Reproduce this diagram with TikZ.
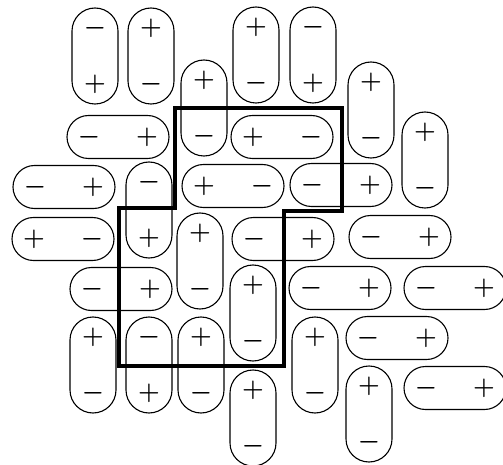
\documentclass[tikz,border=0pt]{standalone}
\usetikzlibrary{calc}
\tikzset{
  capsule/.style={draw=black, line width=1.1pt, rectangle, inner sep=0pt},
  vcap/.style={capsule, minimum width=46pt, minimum height=96pt, rounded corners=23pt},
  hcap/.style={capsule, minimum width=102pt, minimum height=43pt, rounded corners=21.5pt},
  sgn/.style={inner sep=0pt, font=\fontsize{25}{25}\selectfont\boldmath},
  frame/.style={line width=3.2pt, line join=miter}
}
\newcommand{\capV}[5]{%
  \node[vcap] (#1) at (#2,#3) {};
  \node[sgn] (#1t) at (#2,{#3-28}) {$#4$};
  \node[sgn] (#1b) at (#2,{#3+28}) {$#5$};}
\newcommand{\capH}[5]{%
  \node[hcap] (#1) at (#2,#3) {};
  \node[sgn] (#1l) at ({#2-29},#3) {$#4$};
  \node[sgn] (#1r) at ({#2+29},#3) {$#5$};}
\begin{document}
\begin{tikzpicture}[x=1pt,y=-1pt]
\useasboundingbox (0,0) rectangle (503,465);
\capV{v1}{95}{56}{-}{+}
\capV{v2}{151}{56}{+}{-}
\capV{v3}{256}{55}{+}{-}
\capV{v4}{313}{55}{-}{+}
\capV{v5}{204}{108}{+}{-}
\capH{h6}{118}{137}{-}{+}
\capH{h7}{282}{137}{+}{-}
\capV{v8}{371}{110}{+}{-}
\capV{v9}{425}{160}{+}{-}
\capH{h10}{64}{187}{-}{+}
\capV{v11}{149}{210}{-}{+}
\capH{h12}{233}{186}{+}{-}
\capH{h13}{341}{185}{-}{+}
\capH{h14}{63}{239}{+}{-}
\capV{v15}{200}{261}{+}{-}
\capH{h16}{283}{239}{-}{+}
\capH{h17}{400}{237}{-}{+}
\capH{h18}{121}{289}{-}{+}
\capV{v20}{253}{313}{+}{-}
\capH{h21}{340}{288}{-}{+}
\capH{h22}{455}{288}{-}{+}
\capV{v23}{93}{365}{+}{-}
\capV{v24}{149}{365}{-}{+}
\capV{v25}{201}{365}{+}{-}
\capV{v27}{315}{365}{+}{-}
\capH{h28}{397}{338}{-}{+}
\capV{v29}{369}{414}{+}{-}
\capH{h30}{455}{388}{-}{+}
\capV{v31}{253}{418}{+}{-}
\draw[frame] (175,108) -- (342,108) -- (342,211) -- (284,211) -- (284,366)
  -- (119,366) -- (119,208) -- (175,208) -- cycle;
\end{tikzpicture}
\end{document}
